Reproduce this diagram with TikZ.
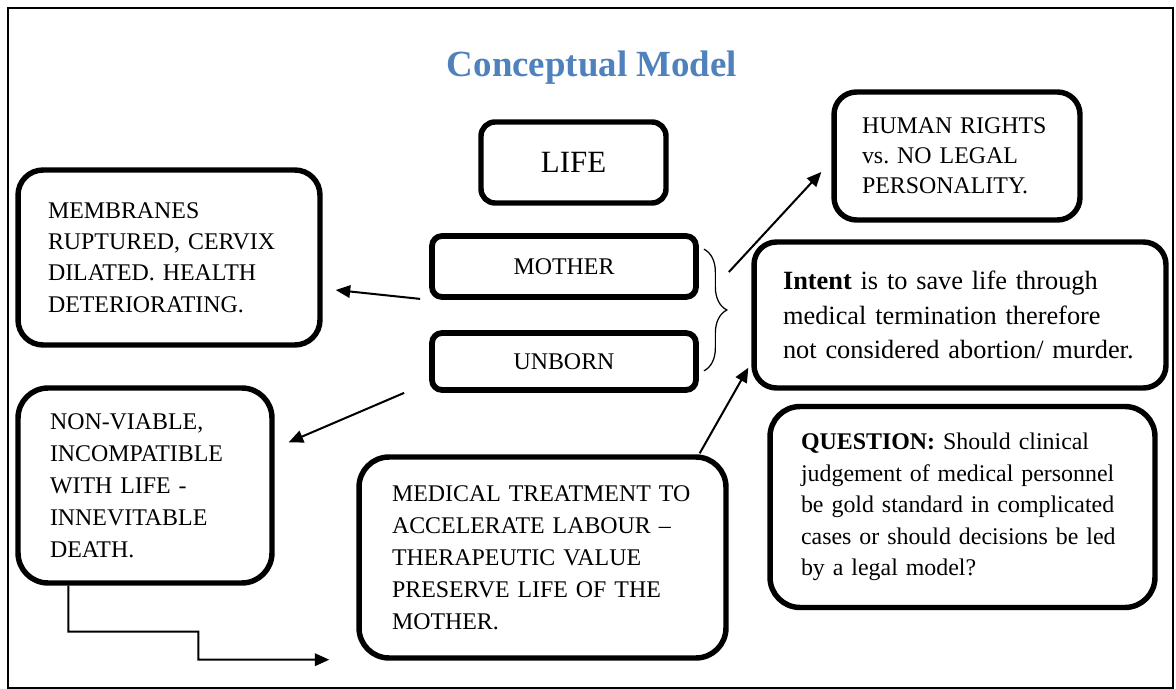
\documentclass[tikz,border=0pt]{standalone}
\usepackage{fontspec}
\setmainfont{Liberation Serif}
\usetikzlibrary{arrows.meta, calc, decorations.pathreplacing}
\definecolor{titleblue}{RGB}{79, 129, 189}
\frenchspacing

\begin{document}
\begin{tikzpicture}[
    x=0.02cm, y=-0.02cm,
    box/.style={rectangle, rounded corners=0.5cm, draw, line width=3.1pt, align=left,
                inner ysep=0pt, font=\fontsize{13.6}{17.6}\selectfont},
    smallbox/.style={box, rounded corners=0.2cm, line width=3.3pt, align=center,
                minimum width=5.28cm},
    headline/.style={font=\fontsize{21}{25}\selectfont\bfseries, text=titleblue},
    arr/.style={-{Triangle[length=0.29cm, width=0.25cm]}, line width=1.15pt},
    link/.style={line width=1.15pt},
    brace/.style={decorate, decoration={brace, amplitude=0.46cm}, line width=0.7pt},
    frame/.style={line width=0.85pt}
]
\useasboundingbox (0,0) rectangle (1176,689);
\draw[frame] (8,8) rectangle (1173,688);

% =========== title + centre column ===========
\node[headline] (title) at (592,68) {Conceptual Model};

\node[box, rounded corners=0.28cm, align=center, minimum width=3.7cm, minimum height=1.62cm,
      font=\fontsize{17.6}{21}\selectfont] (life) at (573.5,162.5) {LIFE};

\node[smallbox, minimum height=1.22cm] (mother) at (564,266.5) {MOTHER};
\node[smallbox, minimum height=1.14cm] (unborn) at (564,361.5) {UNBORN};

\draw[brace] ($(mother.north east)+(5,16)$) -- ($(unborn.south east)+(5,-22)$);
\coordinate (bracend) at ($(mother.east)+(30,5.5)$);

% =========== left column ===========
\node[box, text width=4.84cm, inner xsep=0.6cm, minimum height=3.5cm,
      font=\fontsize{13.6}{17.8}\selectfont] (membr) at (169,257.5)
    {MEMBRANES\\RUPTURED, CERVIX\\DILATED. HEALTH\\DETERIORATING.};

\node[box, rounded corners=0.6cm, text width=3.8cm, inner xsep=0.64cm, minimum height=3.9cm,
      font=\fontsize{13.6}{18.2}\selectfont] (nonv) at (145,485.5)
    {NON-VIABLE,\\INCOMPATIBLE\\WITH LIFE -\\INNEVITABLE\\DEATH.};

\node[box, rounded corners=0.6cm, text width=6.02cm, inner xsep=0.66cm, minimum height=4.02cm,
      font=\fontsize{13.6}{18.2}\selectfont] (medical) at (542.5,557.5)
    {MEDICAL TREATMENT TO\\ACCELERATE LABOUR --\\THERAPEUTIC VALUE\\PRESERVE LIFE OF THE\\MOTHER.};

% =========== right column ===========
\node[box, rounded corners=0.45cm, text width=3.8cm, inner xsep=0.56cm, minimum height=2.56cm,
      font=\fontsize{13.6}{17}\selectfont] (rights) at (957,156)
    {HUMAN RIGHTS\\vs. NO LEGAL\\PERSONALITY.};

\node[box, rounded corners=0.45cm, text width=7.08cm, inner xsep=0.58cm, minimum height=2.92cm,
      font=\fontsize{15}{19.8}\selectfont] (intent) at (960,315)
    {\textbf{Intent} is to save life through\\medical termination therefore\\not considered abortion/ murder.};

\node[box, rounded corners=0.6cm, text width=6.46cm, inner xsep=0.62cm, minimum height=4.02cm,
      font=\fontsize{13.6}{18}\selectfont] (question) at (962.5,507)
    {\textbf{QUESTION:} Should clinical\\judgement of medical personnel\\be gold standard in complicated\\cases or should decisions be led\\by a legal model?};

% =========== connectors ===========
\draw[arr] ($(mother.south west)+(-9,-1)$) -- ($(membr.east)+(13,32.5)$);
\draw[arr] ($(unborn.south west)+(-25,0)$) -- ($(nonv.north east)+(14,57)$);
\draw[link] ($(membr.south)+(6,0)$) -- ($(membr.south)+(6,0)$ |- nonv.north);
\draw[arr] ($(nonv.south west)+(53,0)$) -- ++(0,46) -| ++(130,28)
    -- ($(medical.south west)+(-27,-1)$);
\draw[arr] ($(medical.north east)+(-29,-1)$) -- ($(intent.south west)+(-3,-23)$);
\draw[arr] (bracend) -- ($(rights.west)+(-10,16)$);

\end{tikzpicture}
\end{document}
